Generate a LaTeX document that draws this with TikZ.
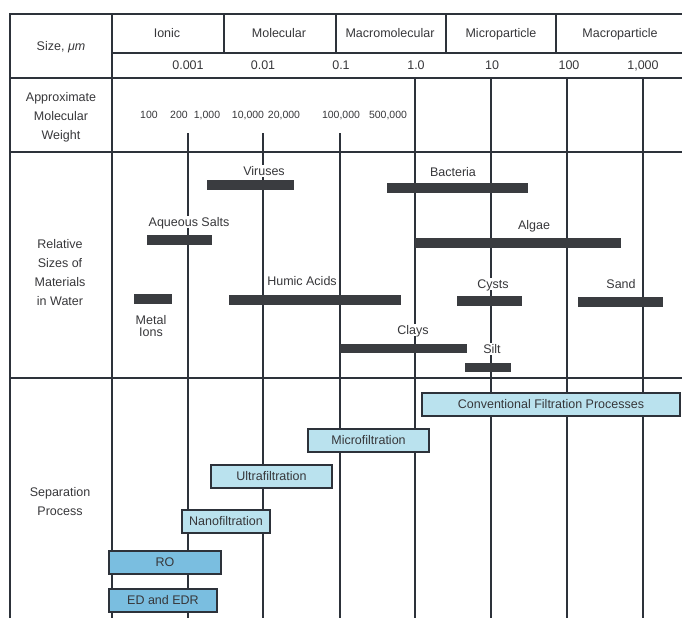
\documentclass[tikz,border=0pt]{standalone}
\usepackage{fontspec}
\setmainfont{Liberation Sans}
\usetikzlibrary{positioning}
\definecolor{gridline}{RGB}{45,50,58}
\definecolor{bardark}{RGB}{58,60,64}
\definecolor{procfill}{RGB}{186,226,238}
\definecolor{rofill}{RGB}{122,190,224}
\definecolor{txt}{RGB}{55,55,58}
\tikzset{cell/.style={text=txt,font=\fontsize{12.5}{14}\selectfont,inner sep=0pt,text height=9pt,text depth=0pt}}
\tikzset{matlbl/.style={cell,fill=white,inner xsep=1pt,inner ysep=1.5pt}}
\tikzset{side/.style={text=txt,align=center,inner sep=0pt,font=\fontsize{12.5}{19}\selectfont}}
\tikzset{mw/.style={cell,font=\fontsize{10.5}{12}\selectfont,text height=7.5pt}}
\tikzset{matbar/.style={fill=bardark}}
\tikzset{rule/.style={draw=gridline,line width=1.4pt}}
\tikzset{proc/.style={draw=gridline,fill=procfill,line width=1.2pt,minimum height=23pt,inner sep=0pt,text=txt,font=\fontsize{12.5}{14}\selectfont}}

\begin{document}
\begin{tikzpicture}[x=1pt,y=-1pt]
\useasboundingbox (0,0) rectangle (682,618);

% table rules
\draw[rule] (10,618) -- (10,14) -- (682,14);
\draw[rule] (112,14) -- (112,618);
\draw[rule] (112,53) -- (682,53);
\foreach \y in {78,152,378} \draw[rule] (10,\y) -- (682,\y);
\foreach \x in {224,336,446,556} \draw[rule,line width=1.1pt] (\x,14) -- (\x,53);
\foreach \x in {188,263,340} \draw[rule,line width=1.1pt] (\x,133) -- (\x,618);
\foreach \x in {415,491,567,643} \draw[rule,line width=1.1pt] (\x,78) -- (\x,618);

% headings
\node[cell] (size) at (61,46) {Size, \textit{μm}};
\node[cell] (ionic) at (167,33) {Ionic};
\node[cell] (molec) at (279,33) {Molecular};
\node[cell] (macromol) at (390,33) {Macromolecular};
\node[cell] (micropart) at (501,33) {Microparticle};
\node[cell] (macropart) at (620,33) {Macroparticle};
\foreach \x/\v in {188/0.001,263/0.01,341/0.1,416/1.0,492/10,569/100,643/{1,000}}
  \node[cell] (um\x) at (\x,65) {\v};

\node[side] (mwt) at (61,117) {Approximate\\Molecular\\Weight};
\foreach \x/\v in {149/100,179/200,207/{1,000},248/{10,000},284/{20,000},341/{100,000},388/{500,000}}
  \node[mw] (mw\x) at (\x,115) {\v};

\node[side] (relsize) at (60,273) {Relative\\Sizes of\\Materials\\in Water};
\node[side] (sepproc) at (60,502) {Separation\\Process};

% materials
\fill[matbar] (207,180) rectangle (294,190);
\node[matlbl] (viruses) at (264,171) {Viruses};
\fill[matbar] (387,183) rectangle (528,193);
\node[matlbl] (bacteria) at (453,172) {Bacteria};
\fill[matbar] (147,235) rectangle (212,245);
\node[matlbl] (salts) at (189,222) {Aqueous Salts};
\fill[matbar] (415,238) rectangle (621,248);
\node[matlbl] (algae) at (534,225) {Algae};
\fill[matbar] (134,294) rectangle (172,304);
\node[side,font=\fontsize{12.5}{12}\selectfont] (metal) at (151,326) {Metal\\Ions};
\fill[matbar] (229,295) rectangle (401,305);
\node[matlbl] (humic) at (302,281) {Humic Acids};
\fill[matbar] (457,296) rectangle (522,306);
\node[matlbl] (cysts) at (493,284) {Cysts};
\fill[matbar] (578,297) rectangle (663,307);
\node[matlbl] (sand) at (621,284) {Sand};
\fill[matbar] (340,344) rectangle (467,353);
\node[matlbl] (clays) at (413,330) {Clays};
\fill[matbar] (465,363) rectangle (511,372);
\node[matlbl] (silt) at (492,349) {Silt};

% processes
\node[proc,minimum width=258pt] (conv) at (551,404.5) {Conventional Filtration Processes};
\node[proc,minimum width=121pt] (mf) at (368.5,440.5) {Microfiltration};
\node[proc,minimum width=121pt] (uf) at (271.5,476.5) {Ultrafiltration};
\node[proc,minimum width=88pt] (nf) at (226,521.5) {Nanofiltration};
\node[proc,fill=rofill,minimum width=112pt] (ro) at (165,562.5) {RO};
\node[proc,fill=rofill,minimum width=108pt] (ed) at (163,600.5) {ED and EDR};

\end{tikzpicture}
\end{document}
